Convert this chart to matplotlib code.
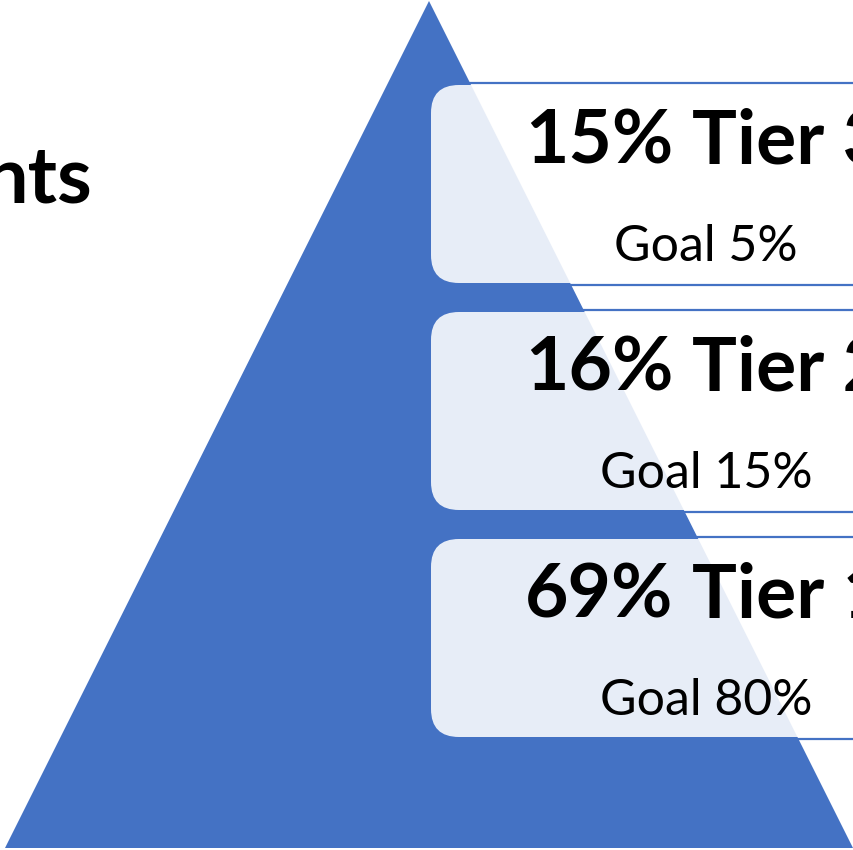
import matplotlib.pyplot as plt
from matplotlib.patches import Polygon, Rectangle, FancyBboxPatch

# tier data, top of pyramid first
tiers = ["Tier 3", "Tier 2", "Tier 1"]
actual = [15, 16, 69]
goals = [5, 15, 80]
side_title = "nts"

blue = "#4472C4"
plt.rcParams['font.family'] = ['Lato', 'DejaVu Sans']

fig = plt.figure(figsize=(8.54, 8.5), dpi=100)
ax = fig.add_axes([0, 0, 1, 1])
ax.set_xlim(0, 854)
ax.set_ylim(850, 0)
ax.axis('off')

# pyramid
ax.add_patch(Polygon([(429, 1), (853, 848), (5, 848)], closed=True,
                     facecolor=blue, edgecolor='none', zorder=2))

box_tops = [84, 311, 538]
box_h = 200
for i, (t, a, g) in enumerate(zip(tiers, actual, goals)):
    top = box_tops[i]
    # outlined strip behind the pyramid
    ax.add_patch(Rectangle((431, top - 1), 600, box_h + 2, facecolor='white',
                           edgecolor=blue, lw=1.6, zorder=1))
    # translucent rounded panel over the pyramid
    ax.add_patch(FancyBboxPatch((431, top + 1), 600, box_h - 2,
                                boxstyle="round,pad=0,rounding_size=28",
                                facecolor='white', alpha=0.88,
                                edgecolor='none', zorder=3))
    ax.text(525, top + 79, f"{a}%", fontsize=54, fontweight='bold',
            ha='left', va='baseline', zorder=4)
    ax.text(692, top + 79, t, fontsize=54, fontweight='bold',
            ha='left', va='baseline', zorder=4)
    ax.text(706, top + 177, f"Goal {g}%", fontsize=36,
            ha='center', va='baseline', zorder=4)

ax.text(92, 202, side_title, fontsize=57, fontweight='bold',
        ha='right', va='baseline')

fig.savefig("out.png", dpi=100)
